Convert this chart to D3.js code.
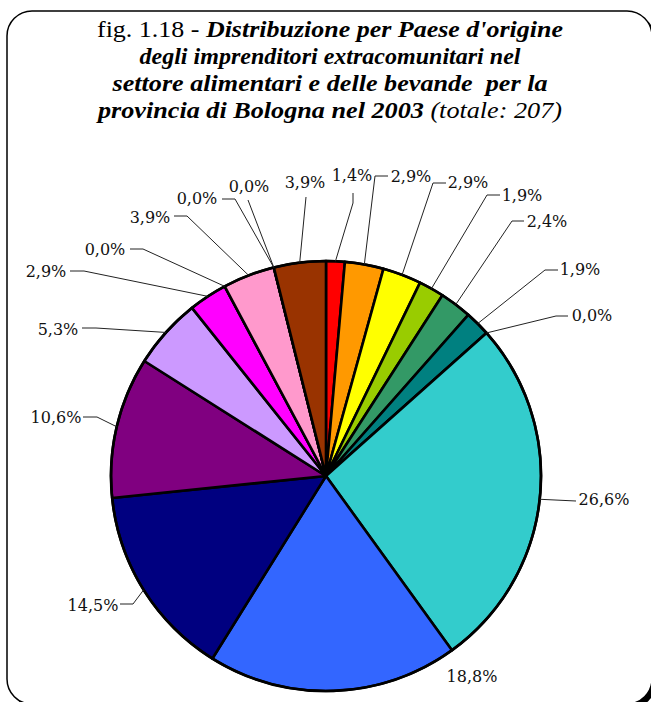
<!DOCTYPE html>
<html><head><meta charset="utf-8">
<script src="https://cdn.jsdelivr.net/npm/d3@7"></script>
<style>body{margin:0;background:#fff}svg{display:block}</style>
</head><body>
<svg id="c" width="651" height="702"></svg>
<script>
// ---- data ----
const values = [1.4, 2.9, 2.9, 1.9, 2.4, 1.9, 0.0, 26.6, 18.8, 14.5, 10.6, 5.3, 2.9, 0.0, 3.9, 0.0, 0.0, 3.9];
const colors = ["#FF0000","#FF9900","#FFFF00","#99CC00","#339966","#008080","#00CCFF","#33CCCC","#3366FF","#000080","#800080","#CC99FF","#FF00FF","#CCFFCC","#FF99CC","#FFCC99","#CCCCFF","#993300"];
const titleLines = [
  [["fig. 1.18 - ", "normal", "normal"], ["Distribuzione per Paese d'origine", "bold", "italic"]],
  [["degli imprenditori extracomunitari nel", "bold", "italic"]],
  [["settore alimentari e delle bevande\u00a0 per la", "bold", "italic"]],
  [["provincia di Bologna nel 2003", "bold", "italic"], [" (totale: 207)", "normal", "italic"]]
];
const titleWidths = [466, 381, 435, 464];
// label layout (text centre/baseline, leader bend points)
const labelLayout = [
  {x:352,y:181,pts:[[353,203],[353,193]]},
  {x:411,y:182,pts:[[375,176],[388,176]]},
  {x:468,y:188,pts:[[433,183],[446,183]]},
  {x:522,y:201,pts:[[487,195],[500,195]]},
  {x:547,y:227,pts:[[512,221],[524,221]]},
  {x:580,y:275,pts:[[545,270],[558,270]]},
  {x:592,y:321,pts:[[556,316],[568,316]]},
  {x:604,y:505,pts:[[576,501]]},
  {x:472,y:682,pts:[]},
  {x:93,y:611,pts:[[133,604],[120,604]]},
  {x:56,y:423,pts:[[97,417],[83,417]]},
  {x:58,y:335,pts:[[96,328],[82,328]]},
  {x:46,y:277,pts:[[84,271],[70,271]]},
  {x:105,y:255,pts:[[143,249],[130,249]]},
  {x:150,y:223,pts:[[187,216],[174,216]]},
  {x:197,y:204,pts:[[235,199],[222,199]]},
  {x:249,y:192,pts:[[248,200]]},
  {x:305,y:188,pts:[[306,197]]}
];

const svg = d3.select("#c");

// frame with shadow
svg.append("rect").attr("x",11).attr("y",15).attr("width",645).attr("height",693).attr("rx",25).attr("fill","#000");
svg.append("rect").attr("x",7).attr("y",11).attr("width",645).attr("height",693).attr("rx",25)
  .attr("fill","#fff").attr("stroke","#000").attr("stroke-width",1.5);

// title
titleLines.forEach((line,i)=>{
  const tx = svg.append("text").attr("text-anchor","middle").attr("x",330).attr("y",37+i*27)
    .attr("textLength",titleWidths[i]).attr("lengthAdjust","spacingAndGlyphs")
    .style("font-family","'Liberation Serif', serif").style("font-size","24px").attr("fill","#000");
  line.forEach(([s,w,st])=>{
    tx.append("tspan").text(s).style("font-weight",w).style("font-style",st);
  });
});

// pie
const cx = 326, cy = 476, r = 215;
const g = svg.append("g").attr("transform",`translate(${cx},${cy})`);
const pie = d3.pie().sort(null).value(d=>d).startAngle(0).endAngle(2*Math.PI);
const arcs = pie(values);
const arc = d3.arc().innerRadius(0).outerRadius(r);
const edge = d3.arc().innerRadius(r).outerRadius(r);
g.selectAll("path.slice").data(arcs).join("path").attr("class","slice")
  .attr("d",arc).attr("fill",(d,i)=>colors[i])
  .attr("stroke","#000").attr("stroke-width",2.6).attr("stroke-linejoin","round");
g.append("circle").attr("r",r).attr("fill","none").attr("stroke","#000").attr("stroke-width",2.6);

// leaders and labels
const fmt = v => v.toFixed(1).replace(".",",") + "%";
arcs.forEach((d,i)=>{
  const L = labelLayout[i];
  const [ex,ey] = edge.centroid(d);
  if(L.pts.length){
    const pts = [[ex+cx,ey+cy]].concat(L.pts);
    svg.append("path").attr("d",d3.line()(pts)).attr("fill","none")
      .attr("stroke","#222").attr("stroke-width",1);
  }
  svg.append("text").attr("x",L.x).attr("y",L.y).attr("text-anchor","middle")
    .style("font-family","'DejaVu Serif', serif").style("font-size","16px").attr("fill","#111")
    .text(fmt(d.data));
});
</script>
</body></html>
